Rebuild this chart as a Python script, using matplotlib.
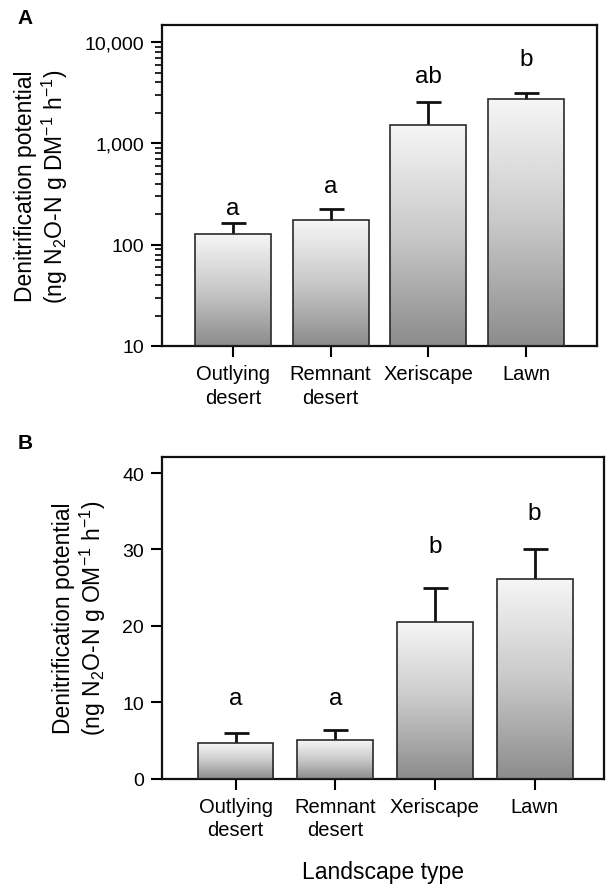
import numpy as np
import matplotlib
matplotlib.use("Agg")
import matplotlib.pyplot as plt
import matplotlib.transforms as mtransforms
from matplotlib.colors import LinearSegmentedColormap
from matplotlib.ticker import FixedLocator, FuncFormatter, LogLocator, NullFormatter

plt.rcParams['font.family'] = ['Liberation Sans', 'DejaVu Sans']
plt.rcParams['mathtext.fontset'] = 'custom'
plt.rcParams['mathtext.rm'] = 'Liberation Sans'
plt.rcParams['mathtext.it'] = 'Liberation Sans:italic'

# categories
sites = ["Outlying\ndesert", "Remnant\ndesert", "Xeriscape", "Lawn"]

# panel A: per dry mass (log scale)
dm_mean = [118, 164, 1525, 2720]
dm_err = [46, 63, 1055, 460]
dm_letters = ["a", "a", "ab", "b"]
dm_letter_y = [202, 335, 4065, 5940]

# panel B: per organic matter
om_mean = [4.6, 5.0, 20.5, 26.1]
om_err = [1.4, 1.3, 4.4, 4.0]
om_letters = ["a", "a", "b", "b"]
om_letter_y = [9.75, 9.75, 29.6, 34.0]

W, H = 608, 895
fig = plt.figure(figsize=(W / 100, H / 100), dpi=100)

axA = fig.add_axes([162 / W, 1 - 347 / H, 435 / W, 321 / H])
axB = fig.add_axes([162 / W, 1 - 779.5 / H, 442 / W, 321.5 / H])

cmap = LinearSegmentedColormap.from_list("bargrad", ["#8c8c8c", "#c9c9c9", "#f6f6f6"])
grad = np.linspace(0, 1, 256).reshape(-1, 1)

ylab_unit = {
    axA: "(ng N$_2$O-N g DM$^{\\mathregular{-1}}$ h$^{\\mathregular{-1}}$)",
    axB: "(ng N$_2$O-N g OM$^{\\mathregular{-1}}$ h$^{\\mathregular{-1}}$)",
}


def draw_panel(ax, means, errs, letters, letter_y, ylim, xlim, width, log=False):
    x = np.arange(len(means))
    if log:
        ax.set_yscale('log')
    ax.set_xlim(*xlim)
    ax.set_ylim(*ylim)
    bars = ax.bar(x, means, width=width, bottom=ylim[0], facecolor='none',
                  edgecolor='#2a2a2a', linewidth=1.2, zorder=3)
    # vertical grey gradient inside each bar
    trans = mtransforms.blended_transform_factory(ax.transData, ax.transAxes)
    for b in bars:
        x0 = b.get_x()
        x1 = x0 + b.get_width()
        top = b.get_y() + b.get_height()
        ytop = ax.transAxes.inverted().transform(ax.transData.transform((x0, top)))[1]
        im = ax.imshow(grad, extent=[x0, x1, 0, ytop], transform=trans, cmap=cmap,
                       aspect='auto', origin='lower', zorder=2, interpolation='bilinear')
        im.set_clip_path(b)
    eb = ax.errorbar(x, means, yerr=[np.zeros(len(errs)), errs], fmt='none',
                     ecolor='#111111', elinewidth=2.0, capsize=9, capthick=2.0, zorder=1)
    eb[1][0].set_visible(False)
    for xi, lab, ly in zip(x, letters, letter_y):
        ax.text(xi, ly, lab, ha='center', va='baseline', fontsize=17.5)
    ax.set_xlim(*xlim)
    ax.set_ylim(*ylim)
    ax.set_xticks(x)
    ax.set_xticklabels(sites, fontsize=14.5, linespacing=1.3)
    for s in ax.spines.values():
        s.set_linewidth(1.6)
        s.set_color('#111111')
    ax.tick_params(axis='x', direction='out', length=8, width=1.5, pad=5)
    ax.tick_params(axis='y', direction='out', length=8, width=1.5, pad=5, labelsize=14)
    ax.set_ylabel("Denitrification potential\n" + ylab_unit[ax], fontsize=16.5,
                  linespacing=1.15, labelpad=10)


draw_panel(axA, dm_mean, dm_err, dm_letters, dm_letter_y, (10, 14750),
           (-0.727, 3.727), 0.78, log=True)
axA.yaxis.set_major_locator(FixedLocator([10, 100, 1000, 10000]))
axA.yaxis.set_major_formatter(FuncFormatter(lambda v, p: f"{int(round(v)):,}"))
axA.yaxis.set_minor_locator(LogLocator(base=10, subs=np.arange(2, 10)))
axA.yaxis.set_minor_formatter(NullFormatter())
axA.tick_params(axis='y', which='minor', direction='out', length=5, width=1.2)

draw_panel(axB, om_mean, om_err, om_letters, om_letter_y, (0, 42.1),
           (-0.737, 3.695), 0.76)
axB.set_yticks([0, 10, 20, 30, 40])

fig.text(25 / W, 1 - 18 / H, "A", fontsize=15, fontweight='bold', ha='center', va='center')
fig.text(25 / W, 1 - 444 / H, "B", fontsize=15, fontweight='bold', ha='center', va='center')
fig.text(383 / W, 1 - 873 / H, "Landscape type", fontsize=16.5, ha='center', va='center')

fig.savefig("out.png", dpi=100)
